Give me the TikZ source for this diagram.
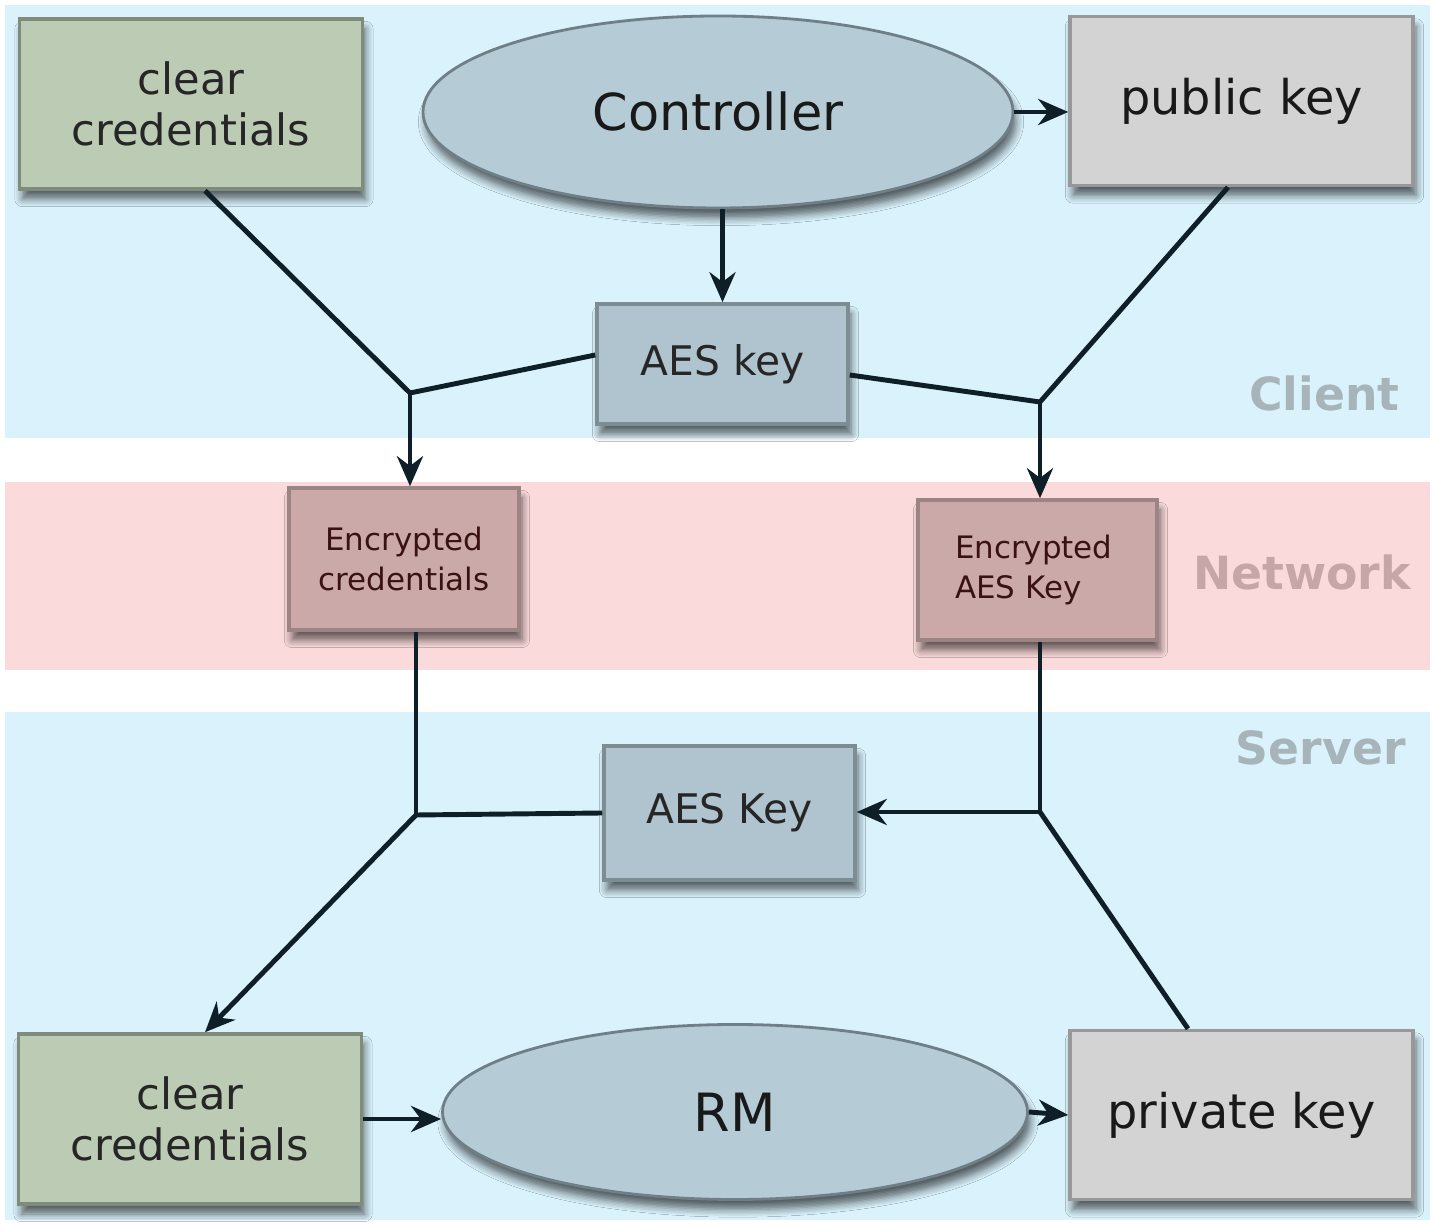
\documentclass[tikz,border=0pt]{standalone}
\usepackage{fontspec}
\setmainfont{DejaVu Sans}
\usetikzlibrary{arrows.meta,shapes.geometric,shadows.blur}

\definecolor{bandblue}{HTML}{D9F2FC}
\definecolor{bandpink}{HTML}{FBDADB}
\definecolor{credfill}{HTML}{BCCBB3}
\definecolor{credline}{HTML}{7F8B7B}
\definecolor{keyfill}{HTML}{D3D3D3}
\definecolor{keyline}{HTML}{989898}
\definecolor{aesfill}{HTML}{AFC4CE}
\definecolor{aesline}{HTML}{7C8D94}
\definecolor{ovalfill}{HTML}{B5CCD6}
\definecolor{ovalline}{HTML}{6F7F87}
\definecolor{encfill}{HTML}{CBA9A9}
\definecolor{encline}{HTML}{9C8484}
\definecolor{enctext}{HTML}{3A1212}
\definecolor{wire}{HTML}{0F1F28}
\definecolor{zonegrey}{HTML}{A7B5BB}
\definecolor{zonepink}{HTML}{C6A6A6}

\begin{document}
\begin{tikzpicture}[
    box/.style={draw,line width=1pt,inner sep=0,align=center,
      blur shadow={shadow xshift=0.03cm,shadow yshift=-0.10cm,shadow opacity=60,shadow blur steps=6}},
    cred/.style={box,fill=credfill,draw=credline,text=black!85,minimum width=3.43cm,minimum height=1.70cm,
      font=\fontsize{12.3}{14.3}\selectfont},
    pkey/.style={box,fill=keyfill,draw=keyline,text=black!90,minimum width=3.43cm,minimum height=1.69cm,
      font=\fontsize{13.6}{16}\selectfont},
    aes/.style={box,fill=aesfill,draw=aesline,text=black!85,minimum width=2.51cm,
      font=\fontsize{11.6}{14}\selectfont},
    enc/.style={box,fill=encfill,draw=encline,text=enctext,
      font=\fontsize{8.8}{11.4}\selectfont},
    oval/.style={ellipse,draw=ovalline,line width=0.8pt,fill=ovalfill,inner sep=0,text=black!90,
      blur shadow={shadow xshift=0.03cm,shadow yshift=-0.10cm,shadow opacity=60,shadow blur steps=6}},
    zone/.style={font=\bfseries\fontsize{13}{15}\selectfont,anchor=east},
    link/.style={draw=wire,line width=1.4pt},
    ->/.style={link,-{Stealth[length=0.30cm,width=0.26cm]}}
  ]
    \useasboundingbox (0,0) rectangle (14.35,12.24);
    \fill[white] (0,0) rectangle (14.35,12.24);

    % bands
    \fill[bandblue] (0.05,7.86) rectangle (14.30,12.19);
    \fill[bandpink] (0.05,5.54) rectangle (14.30,7.42);
    \fill[bandblue] (0.05,0.04) rectangle (14.30,5.12);

    \node[zone,text=zonegrey](client) at (14.12,8.31) {Client};
    \node[zone,text=zonepink](network) at (14.23,6.52) {Network};
    \node[zone,text=zonegrey](server) at (14.18,4.76) {Server};

    % client side
    \node[cred](cct) at (1.91,11.20) {clear\\credentials};
    \node[oval,minimum width=5.90cm,minimum height=1.92cm,font=\fontsize{14.5}{17}\selectfont](ctrl) at (7.18,11.12) {Controller};
    \node[pkey](pub) at (12.415,11.23) {public key};
    \node[aes,minimum height=1.20cm](aesc) at (7.225,8.60) {AES key};

    \coordinate (jcl) at (4.10,8.31);
    \coordinate (jcr) at (10.40,8.22);

    % network
    \node[enc,minimum width=2.30cm,minimum height=1.42cm](encc) at (4.04,6.65) {Encrypted\\credentials};
    \node[enc,align=left,minimum width=2.39cm,minimum height=1.40cm,text width=1.65cm](enca) at (10.375,6.54) {Encrypted\\AES Key};

    % server side
    \node[aes,minimum height=1.34cm](aess) at (7.295,4.11) {AES Key};
    \node[cred](ccb) at (1.90,1.05) {clear\\credentials};
    \node[oval,minimum width=5.85cm,minimum height=1.75cm,font=\fontsize{15}{18}\selectfont](rm) at (7.35,1.12) {RM};
    \node[pkey](priv) at (12.415,1.09) {private key};

    \coordinate (jsl) at (4.16,4.09);
    \coordinate (jsr) at (10.40,4.12);

    \draw[->] (ctrl.east) -- (ctrl.east -| pub.west);
    \draw[->] (aesc.north |- ctrl.south) -- (aesc.north);

    \draw[link] ([xshift=0.14cm]cct.south) -- (jcl);
    \draw[link] ([yshift=0.09cm]aesc.west) -- (jcl);
    \draw[->] (jcl) -- (jcl |- encc.north);

    \draw[link] ([xshift=-0.135cm]pub.south) -- (jcr);
    \draw[link] ([yshift=-0.11cm]aesc.east) -- (jcr);
    \draw[->] (jcr) -- (jcr |- enca.north);

    \draw[link] (jsl |- encc.south) -- (jsl);
    \draw[link] (aess.west) -- (jsl);
    \draw[->] (jsl) -- ([xshift=0.15cm]ccb.north);

    \draw[link] (jsr |- enca.south) -- (jsr);
    \draw[->] (jsr) -- (jsr -| aess.east);
    \draw[link] (jsr) -- ([xshift=-0.535cm]priv.north);

    \draw[->] (ccb.east) -- (ccb.east -| rm.west);
    \draw[->] (rm.east) -- (priv.west);
  \end{tikzpicture}
\end{document}
